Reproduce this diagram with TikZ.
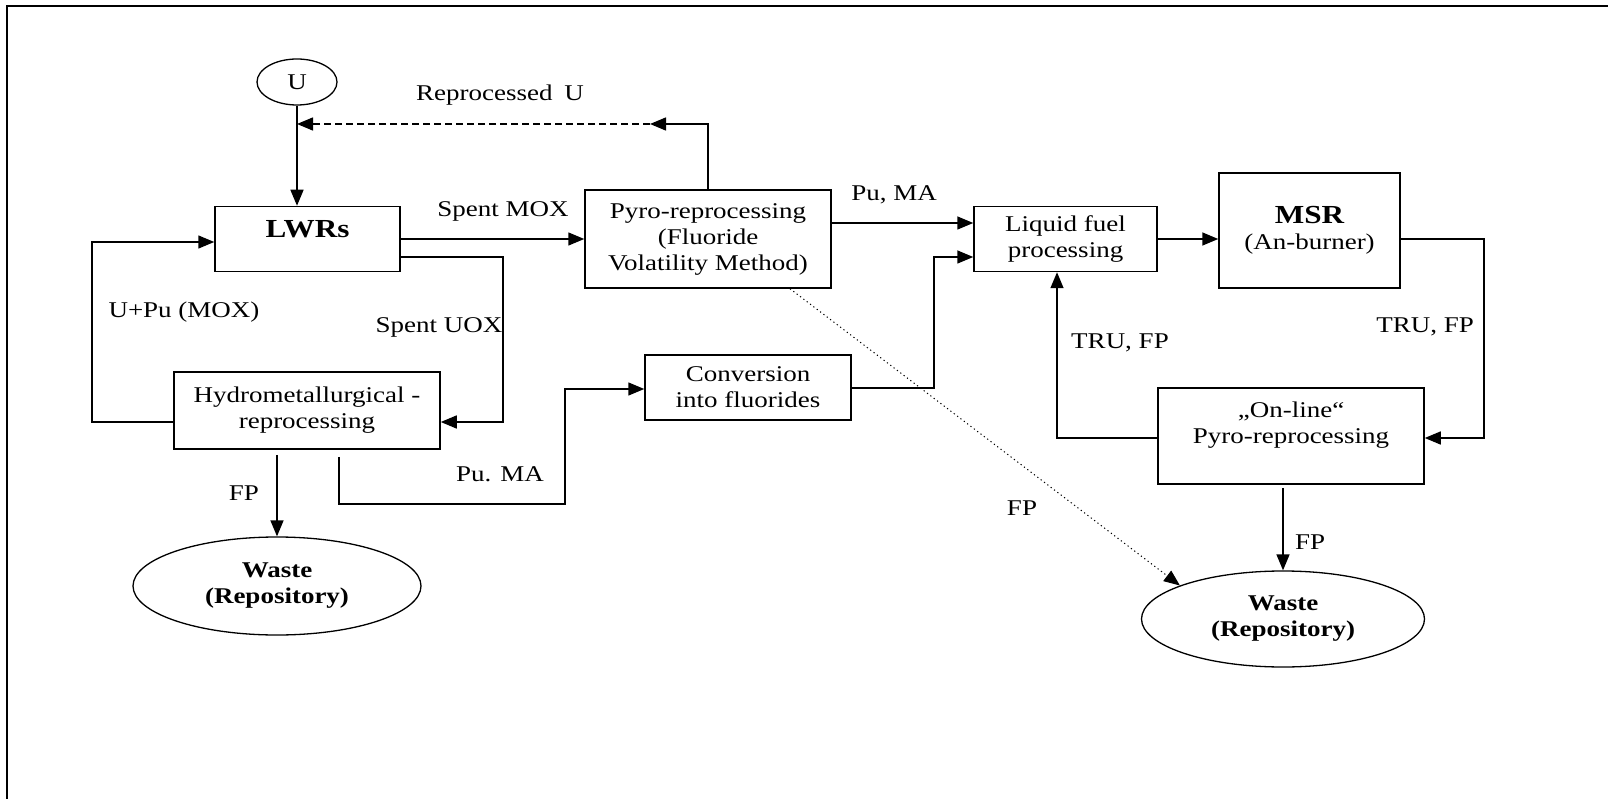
\documentclass[tikz,border=0pt]{standalone}
\usepackage{fontspec}
\setmainfont{Liberation Serif}[FakeStretch=1.2]
\usetikzlibrary{arrows.meta,calc,shapes.geometric}
\begin{document}
\begin{tikzpicture}[x=1pt,y=-1pt,
  box/.style={draw,line width=1.5pt,rectangle,inner sep=0pt,align=center,font=\fontsize{22.5}{26}\selectfont},
  oval/.style={draw,line width=1.3pt,ellipse,inner sep=0pt,align=center,font=\fontsize{22.5}{26}\selectfont\bfseries},
  lbl/.style={font=\fontsize{22.5}{26}\selectfont,inner sep=0pt},
  flow/.style={line width=1.5pt,-{Triangle[length=16pt,width=13pt]}},
  big/.style={font=\fontsize{26}{30}\selectfont\bfseries}
]
\useasboundingbox (0,0) rectangle (1608,799);
\draw[line width=2.5pt] (7,799) -- (7,6) -- (1608,6);

% boxes
\node[box,minimum width=185pt,minimum height=65pt] (LWR) at (307.5,239) {\fontsize{26}{30}\selectfont\bfseries LWRs\\[-6pt]\mbox{}};
\node[box,minimum width=246pt,minimum height=98pt] (Pyro) at (708,239) {Pyro-reprocessing\\(Fluoride\\Volatility Method)};
\node[box,minimum width=266pt,minimum height=77pt] (Hydro) at (307,410.5) {Hydrometallurgical -\\reprocessing};
\node[box,minimum width=206pt,minimum height=65pt] (Conv) at (748,387.5) {Conversion\\into fluorides};
\node[box,minimum width=183pt,minimum height=65pt] (Liq) at (1065.5,239) {Liquid fuel\\processing};
\node[box,minimum width=181pt,minimum height=115pt] (MSR) at (1309.5,230.5) {{\fontsize{26}{30}\selectfont\bfseries MSR}\\(An-burner)};
\node[box,minimum width=266pt,minimum height=96pt] (Online) at (1291,436) {„On-line“\\Pyro-reprocessing\\\mbox{}};

% ovals
\node[oval,minimum width=80pt,minimum height=46pt,font=\fontsize{22.5}{26}\selectfont] (U) at (297,82) {U};
\node[oval,minimum width=288pt,minimum height=98pt] (W1) at (277,586) {Waste\\(Repository)};
\node[oval,minimum width=283pt,minimum height=96pt] (W2) at (1283,619) {Waste\\(Repository)};

% helper coordinates
\coordinate (ruA) at (650,124);
\coordinate (a1) at (503,257);
\coordinate (a2) at (503,422);
\coordinate (b1) at (92,422);
\coordinate (b2) at (92,242);
\coordinate (c1) at (339,504);
\coordinate (c2) at (565,504);
\coordinate (c3) at (565,389);
\coordinate (d1) at (900,223);
\coordinate (e1) at (934,388);
\coordinate (e2) at (934,257);
\coordinate (f1) at (1484,239);
\coordinate (f2) at (1484,438);
\coordinate (g1) at (1057,438);
\coordinate (h1) at (790,288);

% connectors
\draw[flow] (U.south) -- (U.south |- LWR.north);
\draw[flow] (Pyro.north) |- (ruA);
\draw[flow,dash pattern=on 7pt off 4pt] (ruA) -- (U.south |- ruA);
\draw[flow] (LWR.east) -- (Pyro.west);
\draw[flow] (LWR.east |- a1) -- (a1) -- (a2) -- (Hydro.east |- a2);
\draw[flow] (Hydro.west |- b1) -- (b1) -- (b2) -- (LWR.west |- b2);
\draw[flow,shorten <=5pt] (Hydro.south -| W1.north) -- (W1.north);
\draw[flow,shorten <=7pt] (Hydro.south -| c1) -- (c1) -- (c2) -- (c3) -- (Conv.west |- c3);
\draw[flow] (Pyro.east |- d1) -- (Liq.west |- d1);
\draw[flow] (Conv.east |- e1) -- (e1) -- (e2) -- (Liq.west |- e2);
\draw[flow] (Liq.east) -- (MSR.west |- Liq.east);
\draw[flow] (MSR.east |- f1) -- (f1) -- (f2) -- (Online.east |- f2);
\draw[flow] (Online.west |- g1) -- (g1) -- (Liq.south -| g1);
\draw[flow,shorten <=3pt] (Online.south -| W2.north) -- (W2.north);
\draw[flow,line width=1pt,dash pattern=on 1.2pt off 3pt] (Pyro.south -| h1) -- (W2.162);

% labels
\node[lbl] (lRU) at (500,95) {Reprocessed\hspace{5pt} U};
\node[lbl] (lSM) at (503,211) {Spent MOX};
\node[lbl] (lUP) at (184,312) {U+Pu (MOX)};
\node[lbl] (lSU) at (439,327) {Spent UOX};
\node[lbl] (lF1) at (244,493) {FP};
\node[lbl] (lPM1) at (500,474) {Pu. MA};
\node[lbl] (lPM2) at (894,195) {Pu, MA};
\node[lbl] (lT1) at (1425,327) {TRU, FP};
\node[lbl] (lT2) at (1120,343) {TRU, FP};
\node[lbl] (lF2) at (1022,508) {FP};
\node[lbl] (lF3) at (1310,542) {FP};
\end{tikzpicture}
\end{document}
